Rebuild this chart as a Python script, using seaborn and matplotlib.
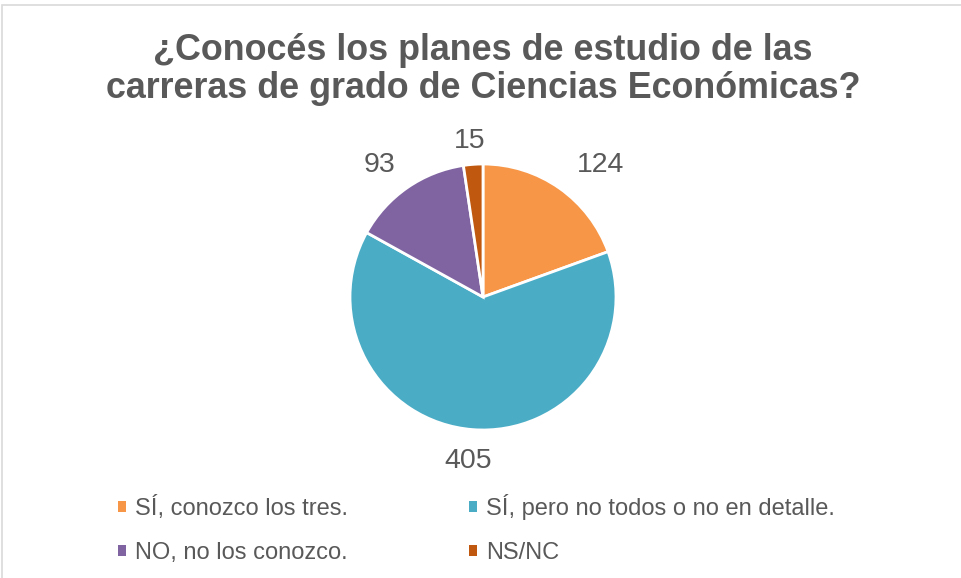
"""
Pie chart: ¿Conocés los planes de estudio de las carreras de grado de Ciencias Económicas?
"""
import matplotlib
matplotlib.use('Agg')
import matplotlib.pyplot as plt
from matplotlib.patches import Rectangle
import seaborn as sns
import numpy as np

categories = ['SÍ, conozco los tres.', 'SÍ, pero no todos o no en detalle.',
              'NO, no los conozco.', 'NS/NC']
counts = [124, 405, 93, 15]
colors = ['#F79646', '#4BACC6', '#8064A2', '#C0590F']

sns.set_style('white')
plt.rcParams['font.family'] = ['Liberation Sans', 'DejaVu Sans']
palette = sns.color_palette(colors)
gray = '#595959'

W, H = 962, 578
fig = plt.figure(figsize=(W / 100, H / 100), dpi=100)

# frame around the chart
fig.patches.append(Rectangle((2 / W, -0.01), 1.0, (H - 5) / H + 0.01,
                             transform=fig.transFigure, fill=False,
                             edgecolor='#D9D9D9', linewidth=1.2))

cx, cy, r = 483, 297, 133
ax = fig.add_axes([(cx - r) / W, (H - cy - r) / H, 2 * r / W, 2 * r / H])
wedges, texts = ax.pie(counts, colors=palette, startangle=90, counterclock=False,
                       labels=[str(c) for c in counts], labeldistance=1.15,
                       wedgeprops=dict(edgecolor='white', linewidth=2),
                       textprops=dict(fontsize=20.5, color=gray))
ax.set_xlim(-1, 1)
ax.set_ylim(-1, 1)
ax.set_aspect('equal')

# push each label outward so its box sits just outside the pie (Excel style)
fig.canvas.draw()
renderer = fig.canvas.get_renderer()
for w, t in zip(wedges, texts):
    theta = np.deg2rad((w.theta1 + w.theta2) / 2)
    ux, uy = np.cos(theta), np.sin(theta)
    t.set_ha('center')
    t.set_va('center')
    bb = t.get_window_extent(renderer)
    half_w, half_h = bb.width / 2 / r, bb.height / 2 / r
    m = max(abs(ux), abs(uy))
    x = 1.02 * ux + 2.4 * half_w * ux / m
    y = 1.02 * uy + 1.9 * half_h * uy / m - 4 / r
    t.set_position((x, y))

fig.text(cx / W, 1 - 50 / H, '¿Conocés los planes de estudio de las',
         ha='center', va='center', fontsize=25.8, fontweight='bold', color=gray)
fig.text(cx / W, 1 - 88 / H, 'carreras de grado de Ciencias Económicas?',
         ha='center', va='center', fontsize=25.8, fontweight='bold', color=gray)

order = [0, 2, 1, 3]
leg = fig.legend([wedges[i] for i in order], [categories[i] for i in order],
                 ncol=2, loc='upper left', bbox_to_anchor=(97 / W, 1 - 473 / H),
                 frameon=False, fontsize=17, handlelength=0.34, handleheight=0.34,
                 handletextpad=0.38, columnspacing=5.13, labelspacing=0.92)
for t in leg.get_texts():
    t.set_color(gray)
for h in leg.legend_handles:
    h.set_edgecolor('none')

plt.savefig('out.png', dpi=100)
